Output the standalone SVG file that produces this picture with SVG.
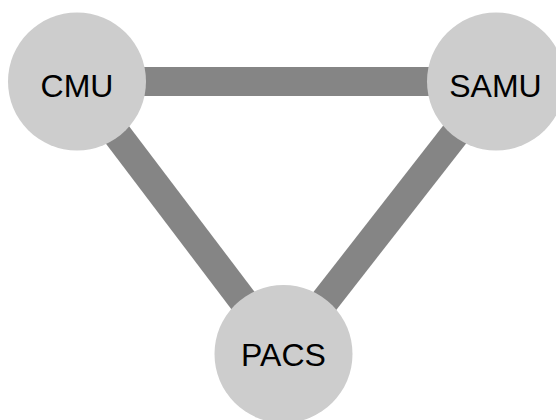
<svg xmlns="http://www.w3.org/2000/svg" width="556" height="420" viewBox="0 0 556 420">
<style>
.edge{stroke:#858585;stroke-width:29;fill:none}
.node{fill:#cdcdcd}
.lbl{font-family:"Liberation Sans",Arial,sans-serif;font-size:32px;fill:#000;text-anchor:middle}
</style>
<rect width="556" height="420" fill="#fff"/>
<g id="connectors">
<line class="edge" x1="77" y1="81.5" x2="496" y2="81.5"/>
<line class="edge" x1="77" y1="81.5" x2="283.5" y2="354"/>
<line class="edge" x1="496" y1="81.5" x2="283.5" y2="354"/>
</g>
<g id="CMU">
<circle class="node" cx="77" cy="81.5" r="69"/>
<text class="lbl" x="77" y="97">CMU</text>
</g>
<g id="SAMU">
<circle class="node" cx="496" cy="81.5" r="69"/>
<text class="lbl" x="495.5" y="97">SAMU</text>
</g>
<g id="PACS">
<circle class="node" cx="283.5" cy="354" r="69"/>
<text class="lbl" x="283.5" y="366">PACS</text>
</g>
</svg>
